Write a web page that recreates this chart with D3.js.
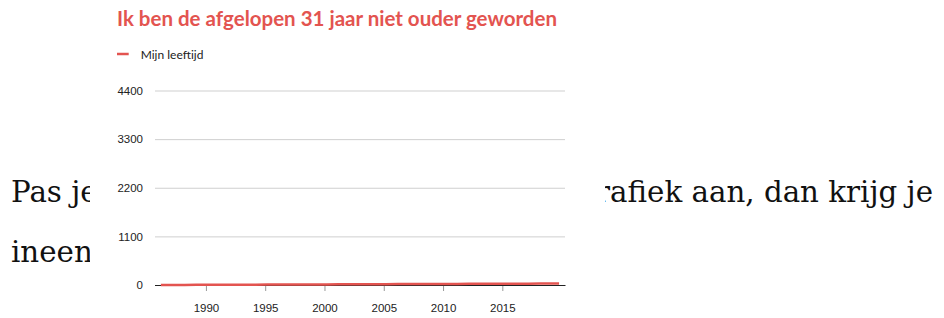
<!DOCTYPE html>
<html>
<head>
<meta charset="utf-8">
<script src="https://cdn.jsdelivr.net/npm/d3@7"></script>
<style>
body { margin:0; width:944px; height:318px; overflow:hidden; background:#fff; }
.serif { font-family:"DejaVu Serif", Georgia, serif; font-size:29.3px; fill:#111; }
.sans { font-family:Lato, "Open Sans", sans-serif; }
</style>
</head>
<body>
<div id="pagina"></div>
<script>
// data
var titel = "Ik ben de afgelopen 31 jaar niet ouder geworden";
var reeksNaam = "Mijn leeftijd";
var datums = ["1986-03-15","1987-03-15","1988-03-15","1989-03-15","1990-03-15","1991-03-15",
  "1992-03-15","1993-03-15","1994-03-15","1995-03-15","1996-03-15","1997-03-15","1998-03-15",
  "1999-03-15","2000-03-15","2001-03-15","2002-03-15","2003-03-15","2004-03-15","2005-03-15",
  "2006-03-15","2007-03-15","2008-03-15","2009-03-15","2010-03-15","2011-03-15","2012-03-15",
  "2013-03-15","2014-03-15","2015-03-15","2016-03-15","2017-03-15","2018-03-15","2019-03-15","2019-10-15"];
var leeftijd = [0,1,2,3,4,5,6,7,8,9,10,11,12,13,14,15,16,17,18,19,20,21,22,23,24,25,26,27,28,29,30,31,32,33,33];
var yTicks = [0, 1100, 2200, 3300, 4400];
var xTicks = [1990, 1995, 2000, 2005, 2010, 2015];

var rood = "#e35450";
var parse = d3.timeParse("%Y-%m-%d");

var data = datums.map(function(d, i) {
  return { datum: parse(d), waarde: leeftijd[i] };
});

var pagina = d3.select("#pagina").append("svg")
  .attr("width", 944)
  .attr("height", 318);

// lopende tekst van het artikel, half onder de grafiek
pagina.append("text").attr("class", "serif")
  .attr("x", 11).attr("y", 202)
  .text("Pas je");
pagina.append("text").attr("class", "serif")
  .attr("x", 933).attr("y", 202)
  .attr("text-anchor", "end")
  .text("rafiek aan, dan krijg je");
pagina.append("text").attr("class", "serif")
  .attr("x", 11).attr("y", 262)
  .text("ineens");

// witte kaart van de grafiek
var kaart = pagina.append("g")
  .attr("transform", "translate(90,0)");
kaart.append("rect")
  .attr("width", 515)
  .attr("height", 318)
  .attr("fill", "#fff");

var svg = kaart.append("g").attr("class", "sans");

// titel
var t = svg.append("text")
  .attr("x", 27)
  .attr("y", 26)
  .attr("fill", rood)
  .style("font-weight", "bold")
  .style("font-size", "20px")
  .text(titel);
// schaal de titel zodat hij even breed is als in het origineel
var breedte = t.node().getComputedTextLength();
t.style("font-size", (20 * 440 / breedte) + "px");

// legenda
svg.append("line")
  .attr("x1", 27).attr("x2", 38.7)
  .attr("y1", 54).attr("y2", 54)
  .attr("stroke", rood)
  .attr("stroke-width", 2.5);
svg.append("text")
  .attr("x", 50.7)
  .attr("y", 58.5)
  .attr("fill", "#222")
  .style("font-size", "12px")
  .text(reeksNaam);

// schalen
var x = d3.scaleTime()
  .domain([new Date(1985, 8, 15), new Date(2020, 3, 15)])
  .range([65, 475]);
var y = d3.scaleLinear()
  .domain([0, 4400])
  .range([285, 90.5]);

// y-as met rasterlijnen
var yAs = svg.append("g")
  .attr("transform", "translate(65,0)")
  .call(d3.axisLeft(y).tickValues(yTicks).tickFormat(d3.format("d")).tickSize(-410).tickPadding(12));
yAs.select(".domain").remove();
yAs.selectAll(".tick line")
  .attr("stroke", function(d) { return d === 0 ? "#222" : "#cfcfcf"; });
yAs.selectAll(".tick text")
  .attr("fill", "#222")
  .style("font-size", "11.5px");

// x-as
var xAs = svg.append("g")
  .attr("transform", "translate(0,285)")
  .call(d3.axisBottom(x)
    .tickValues(xTicks.map(function(j) { return new Date(j, 0, 1); }))
    .tickFormat(d3.timeFormat("%Y"))
    .tickSize(6)
    .tickSizeOuter(0));
xAs.select(".domain").attr("stroke", "#222");
xAs.selectAll(".tick line").attr("stroke", "#999").attr("y1", 1);
xAs.selectAll(".tick text")
  .attr("y", 26.7)
  .attr("dy", 0)
  .attr("fill", "#222")
  .style("font-size", "11.5px");

// lijn
var lijn = d3.line()
  .x(function(d) { return x(d.datum); })
  .y(function(d) { return y(d.waarde); });

svg.append("path")
  .datum(data)
  .attr("d", lijn)
  .attr("fill", "none")
  .attr("stroke", rood)
  .attr("stroke-width", 2.5);
</script>
</body>
</html>
